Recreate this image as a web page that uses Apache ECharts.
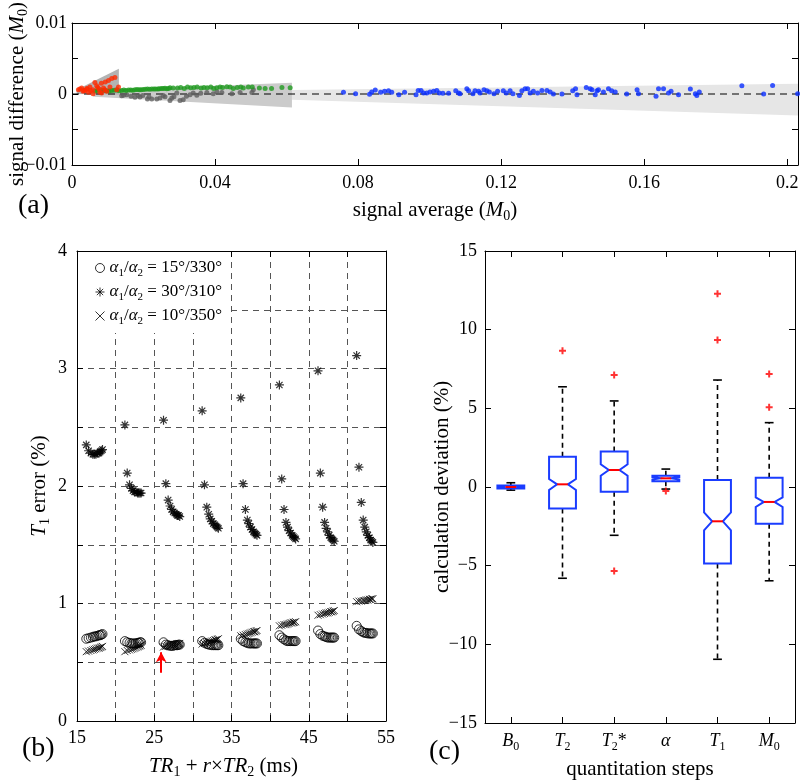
<!DOCTYPE html>
<html><head><meta charset="utf-8">
<script src="https://cdn.jsdelivr.net/npm/echarts@6/dist/echarts.min.js"></script>
<style>html,body{margin:0;padding:0;background:#fff}#c{width:800px;height:782px}</style>
</head><body><div id="c"></div>
<script>
const F = 'Liberation Serif';

// ---------- panel (a): signal difference vs signal average ----------
const redPts = [[0.0018,0.0006],[0.0022,0.0007],[0.0027,0.00084],[0.0031,0.00037],[0.0033,0.0005],[0.0036,0.00051],[0.0041,0.00079],[0.0043,0.0007],[0.0046,0.00023],[0.005,0.00098],[0.0052,0.00045],[0.0058,0.0006],[0.0059,0.00004],[0.0064,0.00163],[0.0069,0.00116],[0.0072,0.0009],[0.0076,0.0007],[0.0078,0.00023],[0.0082,0.0015],[0.0083,0.00014],[0.0088,0.00084],[0.0092,0.0006],[0.0093,0.0017],[0.0097,0.00037],[0.0102,0.00191],[0.0106,0.00098],[0.0111,0.0022],[0.012,0.00233],[0.0125,0.0006],[0.013,0.00098]];
const greenPts = [[0.0065,0.00042],[0.0072,0.0005],[0.0083,0.00051],[0.009,0.00049],[0.0097,0.00046],[0.0104,0.00044],[0.0111,0.00051],[0.0118,0.00052],[0.0125,0.00056],[0.0132,0.00047],[0.0139,0.00051],[0.0145,0.00055],[0.0151,0.00051],[0.0158,0.00058],[0.0164,0.00056],[0.017,0.00054],[0.0176,0.0006],[0.0182,0.00063],[0.0188,0.0006],[0.0193,0.0006],[0.0199,0.00065],[0.0205,0.00068],[0.0211,0.0007],[0.0217,0.00066],[0.0223,0.0007],[0.0229,0.00072],[0.0234,0.0007],[0.024,0.0007],[0.0244,0.00074],[0.025,0.00077],[0.0255,0.00079],[0.026,0.00082],[0.0265,0.00074],[0.027,0.00078],[0.0274,0.00088],[0.0283,0.00084],[0.0295,0.00084],[0.0304,0.00093],[0.0314,0.00079],[0.0323,0.00098],[0.0332,0.00088],[0.0341,0.00093],[0.035,0.00098],[0.0361,0.00084],[0.0369,0.00093],[0.0378,0.00088],[0.0388,0.00098],[0.0396,0.00079],[0.0405,0.00088],[0.0414,0.00098],[0.0421,0.00093],[0.0433,0.00102],[0.0442,0.00098],[0.0451,0.00079],[0.0462,0.00093],[0.0472,0.00098],[0.0479,0.00084],[0.0493,0.00098],[0.0504,0.00098],[0.0524,0.00084],[0.054,0.00079],[0.0558,0.00079],[0.0587,0.00093],[0.061,0.00088]];
const grayPts = [[0.0139,-0.00024],[0.0144,-0.00018],[0.0153,-0.0001],[0.0165,-0.0003],[0.0176,-0.00047],[0.0185,-0.0002],[0.019,-0.00043],[0.0198,-0.0002],[0.0211,-0.0007],[0.0215,-0.0004],[0.0223,-0.0007],[0.0237,-0.0007],[0.0246,-0.00056],[0.0255,-0.0002],[0.026,-0.00037],[0.0274,-0.0009],[0.0279,-0.00056],[0.0285,-0.0004],[0.0293,0.00014],[0.0302,-0.0009],[0.0311,-0.0008],[0.032,-0.0003],[0.033,-0.0001],[0.0339,0.00014],[0.0349,-0.00019],[0.036,0.0001],[0.0377,0.0002],[0.0395,0.00004],[0.0405,0.0003],[0.0419,0.0002],[0.0447,0.00004],[0.047,0.0002],[0.0503,0.0002],[0.0507,0.0006]];
const bluePts = [[0.0759,0.00023],[0.0793,0.00004],[0.0832,-0.00005],[0.0838,0.00028],[0.0848,0.00056],[0.0863,0.00023],[0.0874,0.00037],[0.0885,0.00046],[0.0894,0.00023],[0.0914,-0.0001],[0.093,0.00023],[0.0962,-0.0001],[0.0968,0.0005],[0.0976,0.0005],[0.0983,0.00014],[0.0992,0.00014],[0.1001,0.00028],[0.1011,0.00037],[0.102,0.0005],[0.1027,0.00014],[0.1037,0.0001],[0.1053,0.0001],[0.1073,0.00046],[0.1081,0.00014],[0.1085,0.00004],[0.1104,0.00074],[0.1109,0.00046],[0.1121,0.00004],[0.1127,0.00046],[0.1137,0.00037],[0.1141,0.00014],[0.1152,0.0006],[0.116,0.00046],[0.1167,0.00028],[0.118,0.00004],[0.119,0.00037],[0.1206,0.00046],[0.1214,0.00014],[0.1225,0.00046],[0.1233,0.00004],[0.1251,-0.0002],[0.1258,0.00046],[0.1267,0.00074],[0.1274,0.00074],[0.1281,0.00014],[0.129,0.00037],[0.1302,0.00014],[0.1314,0.0005],[0.1328,0.0005],[0.1337,0.00028],[0.1346,0.0],[0.137,0.0],[0.14,0.00046],[0.1408,0.00074],[0.1412,-0.0001],[0.1438,0.00093],[0.1449,0.00074],[0.1454,0.0006],[0.1463,-0.0001],[0.1468,0.00046],[0.1472,0.0006],[0.1486,0.00028],[0.15,0.00074],[0.1509,0.00046],[0.1519,0.00028],[0.1551,0.0],[0.158,0.0006],[0.1584,0.00004],[0.1633,-0.00033],[0.164,0.00074],[0.1654,0.00074],[0.1668,0.00014],[0.1675,0.00037],[0.1696,-0.0001],[0.1729,0.0007],[0.1743,0.00004],[0.1747,-0.0002],[0.1754,0.00028],[0.1873,0.00116],[0.1934,0.0],[0.1959,0.0012],[0.2029,0.00004]];
// limits-of-agreement bands: [x0, x1, upper0, upper1, lower0, lower1]
const bandLight = [0.0615, 0.203, 0.00056, 0.00145, -0.0008, -0.00304];
const bandMid   = [0.006, 0.0615, 0.0005, 0.00158, -0.0004, -0.0019];
const bandDark  = [0.0013, 0.0131, 0.0006, 0.00355, 0.0, -0.00012];
const zeroLine = [[0, 0], [0.203, 0]];

// ---------- panel (b): T1 error vs TR1 + r×TR2 ----------
const trX = [
  [16.2,16.5,16.8,17.05,17.25,17.45,17.65,17.85,18.0,18.15,18.3],
  [21.2,21.5,21.8,22.05,22.25,22.45,22.65,22.85,23.0,23.15,23.3],
  [26.2,26.5,26.8,27.05,27.25,27.45,27.65,27.85,28.0,28.15,28.3],
  [31.2,31.5,31.8,32.05,32.25,32.45,32.65,32.85,33.0,33.15,33.3],
  [36.2,36.5,36.8,37.05,37.25,37.45,37.65,37.85,38.0,38.15,38.3],
  [41.2,41.5,41.8,42.05,42.25,42.45,42.65,42.85,43.0,43.15,43.3],
  [46.2,46.5,46.8,47.05,47.25,47.45,47.65,47.85,48.0,48.15,48.3],
  [51.2,51.5,51.8,52.05,52.25,52.45,52.65,52.85,53.0,53.15,53.3]
];
const err15_330 = [
  [0.70,0.705,0.71,0.715,0.72,0.72,0.725,0.73,0.73,0.735,0.74],
  [0.68,0.67,0.665,0.66,0.66,0.66,0.66,0.665,0.665,0.67,0.67],
  [0.67,0.65,0.645,0.64,0.64,0.64,0.645,0.645,0.645,0.65,0.65],
  [0.68,0.665,0.655,0.65,0.65,0.645,0.645,0.645,0.645,0.645,0.645],
  [0.70,0.68,0.67,0.665,0.66,0.66,0.66,0.66,0.66,0.66,0.66],
  [0.73,0.71,0.695,0.685,0.68,0.68,0.68,0.68,0.68,0.68,0.68],
  [0.77,0.74,0.725,0.72,0.715,0.71,0.71,0.71,0.71,0.71,0.71],
  [0.81,0.78,0.765,0.755,0.75,0.75,0.745,0.745,0.745,0.745,0.745]
];
const err30_310 = [
  [2.35,2.30,2.28,2.27,2.27,2.27,2.28,2.28,2.29,2.30,2.31],
  [2.52,2.11,2.01,1.98,1.96,1.95,1.95,1.94,1.94,1.94,1.94],
  [2.56,2.02,1.88,1.83,1.80,1.78,1.77,1.76,1.75,1.75,1.74],
  [2.64,2.01,1.82,1.76,1.72,1.70,1.68,1.67,1.66,1.65,1.64],
  [2.75,2.02,1.80,1.71,1.68,1.65,1.63,1.61,1.60,1.59,1.58],
  [2.86,2.06,1.80,1.69,1.65,1.62,1.60,1.58,1.57,1.56,1.55],
  [2.98,2.11,1.82,1.69,1.64,1.61,1.58,1.56,1.55,1.54,1.53],
  [3.11,2.16,1.86,1.71,1.65,1.61,1.58,1.56,1.54,1.53,1.52]
];
const err10_350 = [
  [0.59,0.595,0.60,0.605,0.61,0.615,0.62,0.62,0.625,0.63,0.635],
  [0.59,0.60,0.605,0.61,0.615,0.62,0.625,0.63,0.635,0.64,0.645],
  [0.63,0.635,0.64,0.64,0.645,0.645,0.65,0.65,0.655,0.655,0.66],
  [0.655,0.66,0.665,0.67,0.675,0.68,0.685,0.69,0.69,0.695,0.70],
  [0.725,0.73,0.735,0.74,0.745,0.75,0.755,0.76,0.76,0.765,0.77],
  [0.81,0.815,0.82,0.82,0.825,0.83,0.835,0.835,0.84,0.84,0.845],
  [0.90,0.905,0.91,0.915,0.92,0.92,0.925,0.93,0.93,0.935,0.94],
  [1.015,1.02,1.02,1.025,1.025,1.03,1.03,1.035,1.035,1.04,1.04]
];
const arrowPts = [[25.9, 0.41], [25.9, 0.585]];
const legendNames = ['15/330', '30/310', '10/350'];
const legendLabels = ['{i|α}{s|1}/{i|α}{s|2} = 15°/330°', '{i|α}{s|1}/{i|α}{s|2} = 30°/310°', '{i|α}{s|1}/{i|α}{s|2} = 10°/350°'];

// ---------- panel (c): calculation deviation boxplots ----------
const steps = ['B0', 'T2', 'T2*', 'α', 'T1', 'M0'];
const stepLabels = ['{i|B}{s|0}', '{i|T}{s|2}', '{i|T}{s|2}*', '{i|α}', '{i|T}{s|1}', '{i|M}{s|0}'];
const whiskerLow  = [-0.2, -5.8, -3.07, -0.13, -10.95, -5.96];
const boxLow      = [-0.1, -1.37, -0.3, 0.36, -4.87, -2.33];
const notchLow    = [-0.03, -0.19, 0.72, 0.47, -2.75, -1.27];
const median      = [0.0, 0.17, 1.08, 0.55, -2.18, -0.95];
const notchHigh   = [0.03, 0.51, 1.44, 0.63, -1.61, -0.66];
const boxHigh     = [0.1, 1.93, 2.25, 0.72, 0.45, 0.59];
const whiskerHigh = [0.27, 6.37, 5.47, 1.14, 6.8, 4.09];
const outliers = [[1, 8.66], [2, 7.12], [2, -5.34], [3, -0.25], [4, 12.29], [4, 9.35], [5, 5.07], [5, 7.18]];

// ---------- helpers ----------
function flat(xs, ys) { const out = []; xs.forEach((g, gi) => g.forEach((x, k) => out.push([x, ys[gi][k]]))); return out; }
function rich(size) {
  return {
    i: { fontFamily: F, fontStyle: 'italic', fontSize: size, color: '#000', lineHeight: size + 5 },
    s: { fontFamily: F, fontSize: Math.round(size * 0.66), color: '#000', verticalAlign: 'bottom', lineHeight: Math.round(size * 0.66) }
  };
}
function nameStyle(size, pad) { return { fontFamily: F, fontSize: size, color: '#000', lineHeight: size + 5, rich: rich(size), padding: pad || 0 }; }
const axLine = { show: true, onZero: false, lineStyle: { color: '#000', width: 1 } };
const tick = { show: true, inside: true, length: 6, lineStyle: { color: '#000', width: 1 } };
function valAxis(o) {
  return Object.assign({ type: 'value', axisLine: axLine, axisTick: tick, splitLine: { show: false }, nameMoveOverlap: false }, o);
}
const lbl = (o) => Object.assign({ color: '#000', fontFamily: F, fontSize: 18 }, o);
const gridDash = { show: true, lineStyle: { color: '#555', width: 1, type: [6, 5] } };

const fmtA_x = v => { const k = v / 0.04; return Math.abs(k - Math.round(k)) < 1e-6 ? (v === 0 ? '0' : String(+v.toFixed(2))) : ''; };
const fmtA_y = v => Math.abs(v) < 1e-12 ? '0' : (Math.abs(Math.abs(v) - 0.01) < 1e-9 ? (v < 0 ? '−0.01' : '0.01') : '');
const fmtB_x = v => (Math.abs((v - 15) % 10) < 1e-9 ? String(v) : '');
const fmtB_y = v => (Math.abs(v - Math.round(v)) < 1e-9 ? String(Math.round(v)) : '');
const fmtC_y = v => (v < 0 ? '−' + (-v) : String(v));

const bandColors = ['#e6e6e6', '#cbcbcb', '#b3b3b3'];
const asteriskPath = 'path://M0,-10L0,10M-10,0L10,0M-7,-7L7,7M-7,7L7,-7';
const crossPath = 'path://M-10,-10L10,10M-10,10L10,-10';
const plusPath = 'path://M-10,0L10,0M0,-10L0,10';

const option = {
  animation: false,
  textStyle: { fontFamily: F },
  title: [
    { text: '(a)', left: 18, top: 192, padding: 0, textStyle: { fontFamily: F, fontSize: 28, fontWeight: 'normal', color: '#000' } },
    { text: '(b)', left: 22, top: 735, padding: 0, textStyle: { fontFamily: F, fontSize: 28, fontWeight: 'normal', color: '#000' } },
    { text: '(c)', left: 429, top: 738, padding: 0, textStyle: { fontFamily: F, fontSize: 28, fontWeight: 'normal', color: '#000' } }
  ],
  grid: [
    { left: 72, top: 23, width: 726, height: 142, outerBoundsMode: 'none' },
    { left: 77, top: 251, width: 309, height: 470, outerBoundsMode: 'none' },
    { left: 485, top: 251, width: 310, height: 472, outerBoundsMode: 'none' }
  ],
  legend: {
    data: legendNames, orient: 'vertical', left: 78, top: 252,
    padding: [5, 6, 6, 17], itemGap: 2, itemWidth: 9, itemHeight: 9,
    backgroundColor: '#fff',
    itemStyle: { color: 'rgba(0,0,0,0)', borderColor: '#000', borderWidth: 1 },
    formatter: n => legendLabels[legendNames.indexOf(n)],
    textStyle: { fontFamily: F, fontSize: 17, color: '#000', lineHeight: 20, rich: rich(17) },
    selectedMode: false
  },
  xAxis: [
    valAxis({ gridIndex: 0, position: 'bottom', min: 0, max: 0.203, interval: 0.04,
      axisLabel: lbl({ margin: 9, formatter: fmtA_x }),
      name: 'signal average ({i|M}{s|0})', nameLocation: 'middle', nameGap: 32, nameTextStyle: nameStyle(21) }),
    valAxis({ gridIndex: 0, position: 'top', min: 0, max: 0.203, interval: 0.04, axisLabel: { show: false } }),
    valAxis({ gridIndex: 1, position: 'bottom', min: 15, max: 55, interval: 5, splitLine: gridDash,
      axisLabel: lbl({ margin: 8, formatter: fmtB_x }),
      name: '{i|TR}{s|1} + {i|r}×{i|TR}{s|2} (ms)', nameLocation: 'middle', nameGap: 32, nameTextStyle: nameStyle(21, [0, 16, 0, 0]) }),
    valAxis({ gridIndex: 1, position: 'top', min: 15, max: 55, interval: 5, axisLabel: { show: false } }),
    { type: 'category', gridIndex: 2, position: 'bottom', data: steps, axisLine: axLine, nameMoveOverlap: false,
      axisTick: Object.assign({ alignWithLabel: true }, tick),
      axisLabel: lbl({ margin: 7, interval: 0, formatter: (v, i) => stepLabels[i], rich: rich(18) }),
      name: 'quantitation steps', nameLocation: 'middle', nameGap: 33, nameTextStyle: nameStyle(21) },
    { type: 'category', gridIndex: 2, position: 'top', data: steps, axisLine: axLine,
      axisTick: Object.assign({ alignWithLabel: true, interval: 0 }, tick), axisLabel: { show: false } }
  ],
  yAxis: [
    valAxis({ gridIndex: 0, position: 'left', min: -0.01, max: 0.01, interval: 0.005,
      axisLabel: lbl({ margin: 5, formatter: fmtA_y }),
      name: 'signal difference ({i|M}{s|0})', nameLocation: 'middle', nameGap: 42, nameTextStyle: nameStyle(21) }),
    valAxis({ gridIndex: 0, position: 'right', min: -0.01, max: 0.01, interval: 0.005, axisLabel: { show: false } }),
    valAxis({ gridIndex: 1, position: 'left', min: 0, max: 4, interval: 0.5, splitLine: gridDash,
      axisLabel: lbl({ margin: 10, formatter: fmtB_y }),
      name: '{i|T}{s|1} error (%)', nameLocation: 'middle', nameGap: 25, nameTextStyle: nameStyle(21) }),
    valAxis({ gridIndex: 1, position: 'right', min: 0, max: 4, interval: 0.5, axisLabel: { show: false } }),
    valAxis({ gridIndex: 2, position: 'left', min: -15, max: 15, interval: 5,
      axisLabel: lbl({ margin: 8, formatter: fmtC_y }),
      name: 'calculation deviation (%)', nameLocation: 'middle', nameGap: 30, nameTextStyle: nameStyle(21) }),
    valAxis({ gridIndex: 2, position: 'right', min: -15, max: 15, interval: 5, axisLabel: { show: false } })
  ],
  series: [
    // (a) bands
    { type: 'custom', xAxisIndex: 0, yAxisIndex: 0, z: 1, silent: true,
      data: [bandLight, bandMid, bandDark],
      encode: { x: [0, 1], y: [2, 3, 4, 5] },
      renderItem: (params, api) => ({
        type: 'polygon',
        shape: { points: [
          api.coord([api.value(0), api.value(2)]), api.coord([api.value(1), api.value(3)]),
          api.coord([api.value(1), api.value(5)]), api.coord([api.value(0), api.value(4)]) ] },
        style: { fill: bandColors[params.dataIndex] }
      }) },
    { type: 'line', xAxisIndex: 0, yAxisIndex: 0, z: 3, data: zeroLine, showSymbol: false, silent: true,
      lineStyle: { color: '#000', width: 1.2, type: [7, 5] } },
    { type: 'scatter', xAxisIndex: 0, yAxisIndex: 0, z: 4, data: grayPts, symbolSize: 5, itemStyle: { color: '#5e5e5e' } },
    { type: 'scatter', xAxisIndex: 0, yAxisIndex: 0, z: 4, data: greenPts, symbolSize: 5, itemStyle: { color: '#1f9a1f' } },
    { type: 'scatter', xAxisIndex: 0, yAxisIndex: 0, z: 4, data: redPts, symbolSize: 5, itemStyle: { color: '#ff2a00' } },
    { type: 'scatter', xAxisIndex: 0, yAxisIndex: 0, z: 4, data: bluePts, symbolSize: 5, itemStyle: { color: '#0a2eff' } },
    // (b)
    { name: legendNames[0], type: 'scatter', xAxisIndex: 2, yAxisIndex: 2, z: 4, data: flat(trX, err15_330),
      symbol: 'circle', symbolSize: 9, itemStyle: { color: 'rgba(0,0,0,0)', borderColor: '#000', borderWidth: 1 },
      markLine: { silent: true, animation: false, symbol: ['none', 'arrow'], symbolSize: [8, 10], label: { show: false },
        lineStyle: { color: '#ff0000', width: 2, type: 'solid' },
        data: [[{ coord: arrowPts[0] }, { coord: arrowPts[1] }]] } },
    { name: legendNames[1], type: 'scatter', xAxisIndex: 2, yAxisIndex: 2, z: 4, data: flat(trX, err30_310),
      symbol: asteriskPath, symbolSize: 9, itemStyle: { color: 'rgba(0,0,0,0)', borderColor: '#000', borderWidth: 1.2 } },
    { name: legendNames[2], type: 'scatter', xAxisIndex: 2, yAxisIndex: 2, z: 4, data: flat(trX, err10_350),
      symbol: crossPath, symbolSize: 7, itemStyle: { color: 'rgba(0,0,0,0)', borderColor: '#000', borderWidth: 1 } },
    // (c) notched boxes
    { type: 'custom', xAxisIndex: 4, yAxisIndex: 4, z: 3, silent: true,
      data: steps.map((s, i) => [i, whiskerLow[i], boxLow[i], notchLow[i], median[i], notchHigh[i], boxHigh[i], whiskerHigh[i]]),
      encode: { x: 0, y: [1, 2, 3, 4, 5, 6, 7] },
      renderItem: (params, api) => {
        const i = api.value(0);
        const cx = api.coord([i, 0])[0];
        const Y = k => api.coord([i, api.value(k)])[1];
        const bw = api.size([1, 0])[0];
        const hw = bw * 0.26, nw = hw * 0.4, cw = bw * 0.085;
        const wl = Y(1), bl = Y(2), nl = Y(3), md = Y(4), nh = Y(5), bh = Y(6), wh = Y(7);
        const dash = { stroke: '#000', lineWidth: 1.6, lineDash: [5, 4] };
        const solid = { stroke: '#000', lineWidth: 1.6 };
        return { type: 'group', children: [
          { type: 'line', shape: { x1: cx, y1: bh, x2: cx, y2: wh }, style: dash },
          { type: 'line', shape: { x1: cx, y1: bl, x2: cx, y2: wl }, style: dash },
          { type: 'line', shape: { x1: cx - cw, y1: wh, x2: cx + cw, y2: wh }, style: solid },
          { type: 'line', shape: { x1: cx - cw, y1: wl, x2: cx + cw, y2: wl }, style: solid },
          { type: 'polygon', shape: { points: [
              [cx - hw, bh], [cx + hw, bh], [cx + hw, nh], [cx + nw, md], [cx + hw, nl],
              [cx + hw, bl], [cx - hw, bl], [cx - hw, nl], [cx - nw, md], [cx - hw, nh] ] },
            style: { fill: 'none', stroke: '#1a3cff', lineWidth: 2 } },
          { type: 'line', shape: { x1: cx - nw, y1: md, x2: cx + nw, y2: md }, style: { stroke: '#ff0000', lineWidth: 2 } }
        ] };
      } },
    { type: 'scatter', xAxisIndex: 4, yAxisIndex: 4, z: 4, data: outliers, symbol: plusPath, symbolSize: 7,
      itemStyle: { color: 'rgba(0,0,0,0)', borderColor: '#ff0000', borderWidth: 2 } }
  ]
};
const chart = echarts.init(document.getElementById('c'), null, { renderer: 'canvas' });
chart.setOption(option);
</script></body></html>
